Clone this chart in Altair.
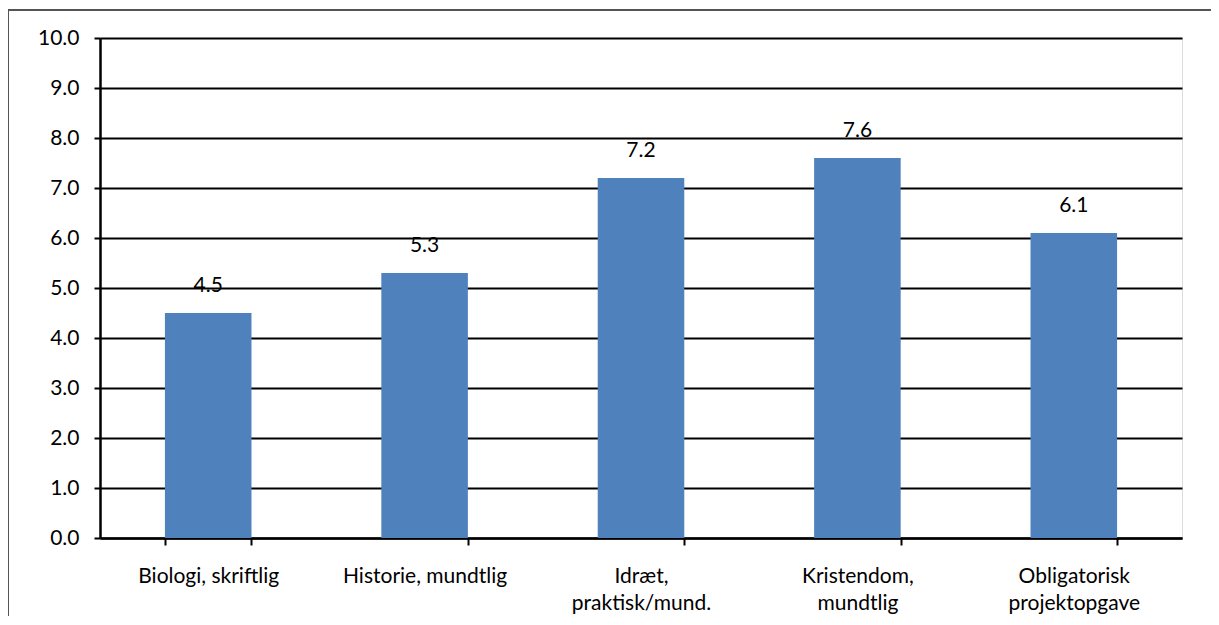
import altair as alt
import pandas as pd

categories = ["Biologi, skriftlig", "Historie, mundtlig", "Idræt, praktisk/mund.",
              "Kristendom, mundtlig", "Obligatorisk projektopgave"]
label_lines = [["Biologi, skriftlig"], ["Historie, mundtlig"], ["Idræt,", "praktisk/mund."],
               ["Kristendom,", "mundtlig"], ["Obligatorisk", "projektopgave"]]
values = [4.5, 5.3, 7.2, 7.6, 6.1]

df = pd.DataFrame({"cat": categories, "val": values})

label_expr = ("{" + ", ".join(
    '"%s": [%s]' % (c, ", ".join('"%s"' % s for s in lines))
    for c, lines in zip(categories, label_lines)) + "}[datum.label]")

FONT = "Lato"
FS = 21

x = alt.X("cat:N", sort=categories, title=None,
          scale=alt.Scale(paddingInner=0.6, paddingOuter=0.3),
          axis=alt.Axis(labelAngle=0, labelExpr=label_expr, labelFont=FONT,
                        labelFontSize=FS, labelColor="#000000", labelPadding=20,
                        labelLineHeight=27, tickBand="extent", tickSize=7,
                        tickColor="#000000", tickWidth=2, domainColor="#000000",
                        domainWidth=2.5, grid=False, labelBaseline="top"))
y = alt.Y("val:Q", title=None,
          scale=alt.Scale(domain=[0, 10], nice=False),
          axis=alt.Axis(values=list(range(0, 11)), format=".1f", labelFont=FONT,
                        labelFontSize=FS, labelColor="#000000", labelPadding=15,
                        tickSize=6, tickColor="#000000", tickWidth=2,
                        domainColor="#000000", domainWidth=2.5,
                        grid=True, gridColor="#000000", gridWidth=2))

bars = alt.Chart(df).mark_bar(color="#4F81BD").encode(x=x, y=y)
text = alt.Chart(df).mark_text(font=FONT, fontSize=FS, color="#000000",
                               baseline="middle", dy=-27).encode(
    x=alt.X("cat:N", sort=categories), y="val:Q", text=alt.Text("val:Q", format=".1f"))

border_left = alt.Chart(df).mark_rule(color="#555555", strokeWidth=1.5).encode(
    x=alt.value(-92), y=alt.value(-28), y2=alt.value(620))
border_top = alt.Chart(df).mark_rule(color="#555555", strokeWidth=1.5).encode(
    x=alt.value(-92), x2=alt.value(1140), y=alt.value(-28))

chart = alt.layer(bars, text, border_left, border_top).properties(
    width=1082, height=500,
    autosize=alt.AutoSizeParams(type="none"),
    padding={"left": 92, "top": 30, "right": 29, "bottom": 78},
).configure_view(stroke=None).configure(background="#ffffff")

chart.save("out.html", embed_options={"renderer": "svg", "actions": False})
